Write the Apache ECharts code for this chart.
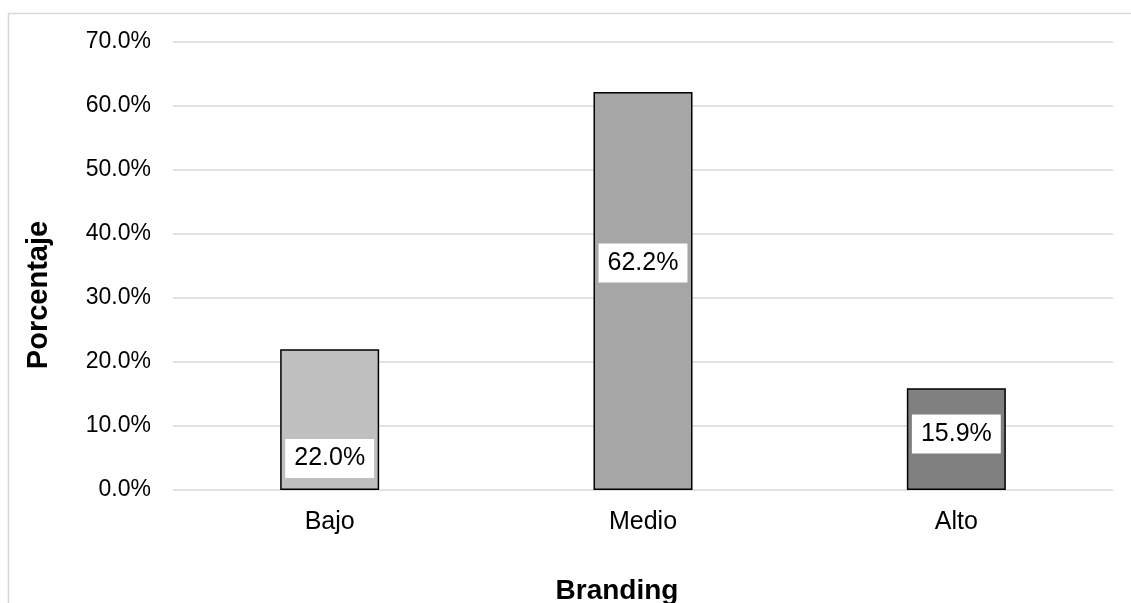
<!DOCTYPE html>
<html>
<head>
<meta charset="utf-8">
<script src="https://cdn.jsdelivr.net/npm/echarts@6/dist/echarts.min.js"></script>
<style>
  html, body { margin: 0; padding: 0; background: #fff; }
  #chart { width: 1131px; height: 603px; }
</style>
</head>
<body>
<div id="chart"></div>
<script>
// datos
const categories = ['Bajo', 'Medio', 'Alto'];
const values = [22.0, 62.2, 15.9];
const barColors = ['#bfbfbf', '#a6a6a6', '#808080'];
// desplazamiento vertical de cada etiqueta (px) respecto al centro de la barra
const labelShift = [39, -28, -5];

const FONT = '"Liberation Sans", Arial, sans-serif';

const chart = echarts.init(document.getElementById('chart'));

const seriesData = values.map((v, i) => ({
  value: v,
  itemStyle: { color: barColors[i] },
  label: { offset: [0, labelShift[i]] }
}));

chart.setOption({
  animation: false,
  backgroundColor: '#fff',
  grid: { left: 173, right: 18, top: 42, bottom: 113 },
  xAxis: {
    type: 'category',
    data: categories,
    axisLine: { show: false },
    axisTick: { show: false },
    axisLabel: { color: '#000', fontFamily: FONT, fontSize: 25, margin: 20 }
  },
  yAxis: {
    type: 'value',
    min: 0,
    max: 70,
    interval: 10,
    axisLine: { show: false },
    axisTick: { show: false },
    splitLine: { lineStyle: { color: '#d9d9d9', width: 1.5 } },
    axisLabel: {
      color: '#000', fontFamily: FONT, fontSize: 23, margin: 22,
      padding: [4, 0, 0, 0],
      formatter: v => v.toFixed(1) + '%'
    }
  },
  series: [{
    type: 'bar',
    data: seriesData,
    barWidth: 99,
    itemStyle: { borderColor: '#000', borderWidth: 1.5 },
    label: {
      show: true,
      position: 'inside',
      formatter: p => p.value.toFixed(1) + '%',
      color: '#000',
      fontFamily: FONT,
      fontSize: 25,
      lineHeight: 25,
      backgroundColor: '#fff',
      padding: [7, 9]
    }
  }],
  graphic: [
    {
      type: 'rect',
      silent: true,
      shape: { x: 8.5, y: 13.5, width: 1200, height: 700 },
      style: { fill: 'none', stroke: '#d9d9d9', lineWidth: 1.5 }
    },
    {
      type: 'text',
      x: 39, y: 295,
      rotation: Math.PI / 2,
      style: {
        text: 'Porcentaje', fill: '#000',
        font: 'bold 29px ' + FONT,
        align: 'center', verticalAlign: 'middle'
      }
    },
    {
      type: 'text',
      x: 617, y: 591,
      style: {
        text: 'Branding', fill: '#000',
        font: 'bold 28px ' + FONT,
        align: 'center', verticalAlign: 'middle'
      }
    }
  ]
});
</script>
</body>
</html>
